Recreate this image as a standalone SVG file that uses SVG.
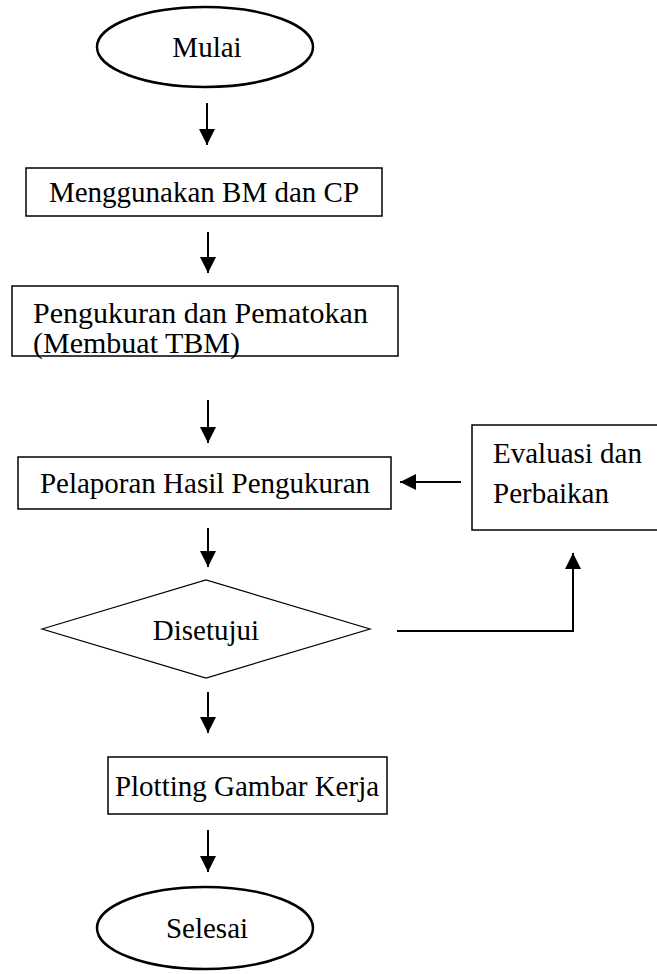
<svg xmlns="http://www.w3.org/2000/svg" width="657" height="974" viewBox="0 0 657 974">
  <style>
    .lbl { font-family: "Liberation Serif", "Times New Roman", serif; font-size: 29px; fill: #000; }
    .big { font-size: 30px; }
    .mid { text-anchor: middle; }
    .term { fill: #fff; stroke: #000; stroke-width: 2.5; }
    .box { fill: #fff; stroke: #000; stroke-width: 1.5; }
    .dec { fill: #fff; stroke: #000; stroke-width: 1.2; }
    .edge { fill: none; stroke: #000; stroke-width: 2; }
  </style>
  <defs>
    <marker id="head" markerUnits="userSpaceOnUse" markerWidth="16" markerHeight="16" viewBox="0 0 16 16" refX="16" refY="8" orient="auto">
      <path d="M0,0 L16,8 L0,16 Z" fill="#000"/>
    </marker>
  </defs>
  <rect width="657" height="974" fill="#fff"/>

  <g id="connectors">
    <line class="edge" x1="207" y1="103" x2="207" y2="145" marker-end="url(#head)"/>
    <line class="edge" x1="208" y1="232" x2="208" y2="273" marker-end="url(#head)"/>
    <line class="edge" x1="208" y1="400" x2="208" y2="443" marker-end="url(#head)"/>
    <line class="edge" x1="461" y1="482" x2="400" y2="482" marker-end="url(#head)"/>
    <line class="edge" x1="208" y1="528" x2="208" y2="567" marker-end="url(#head)"/>
    <polyline class="edge" points="397,631 573,631 573,553" marker-end="url(#head)"/>
    <line class="edge" x1="208" y1="692" x2="208" y2="733" marker-end="url(#head)"/>
    <line class="edge" x1="208" y1="830" x2="208" y2="872" marker-end="url(#head)"/>
  </g>

  <g id="mulai">
    <ellipse class="term" cx="205" cy="47" rx="108" ry="40"/>
    <text class="lbl mid" x="207" y="57">Mulai</text>
  </g>

  <g id="menggunakan">
    <rect class="box" x="26" y="168" width="356" height="48"/>
    <text class="lbl mid" x="204" y="202">Menggunakan BM dan CP</text>
  </g>

  <g id="pengukuran">
    <rect class="box" x="12" y="286" width="386" height="70"/>
    <text class="lbl big" x="33" y="323">Pengukuran dan Pematokan</text>
    <text class="lbl big" x="33" y="353">(Membuat TBM)</text>
  </g>

  <g id="pelaporan">
    <rect class="box" x="18" y="457" width="373" height="52"/>
    <text class="lbl mid" x="205" y="493">Pelaporan Hasil Pengukuran</text>
  </g>

  <g id="evaluasi">
    <rect class="box" x="472" y="425" width="200" height="105"/>
    <text class="lbl" x="493" y="463">Evaluasi dan</text>
    <text class="lbl" x="493" y="503">Perbaikan</text>
  </g>

  <g id="disetujui">
    <polygon class="dec" points="42,629 206,580 370,629 206,678"/>
    <text class="lbl mid" x="206" y="640">Disetujui</text>
  </g>

  <g id="plotting">
    <rect class="box" x="108" y="757" width="279" height="57"/>
    <text class="lbl mid" x="247" y="796">Plotting Gambar Kerja</text>
  </g>

  <g id="selesai">
    <ellipse class="term" cx="205" cy="928" rx="108" ry="41"/>
    <text class="lbl mid" x="207" y="938">Selesai</text>
  </g>
</svg>
